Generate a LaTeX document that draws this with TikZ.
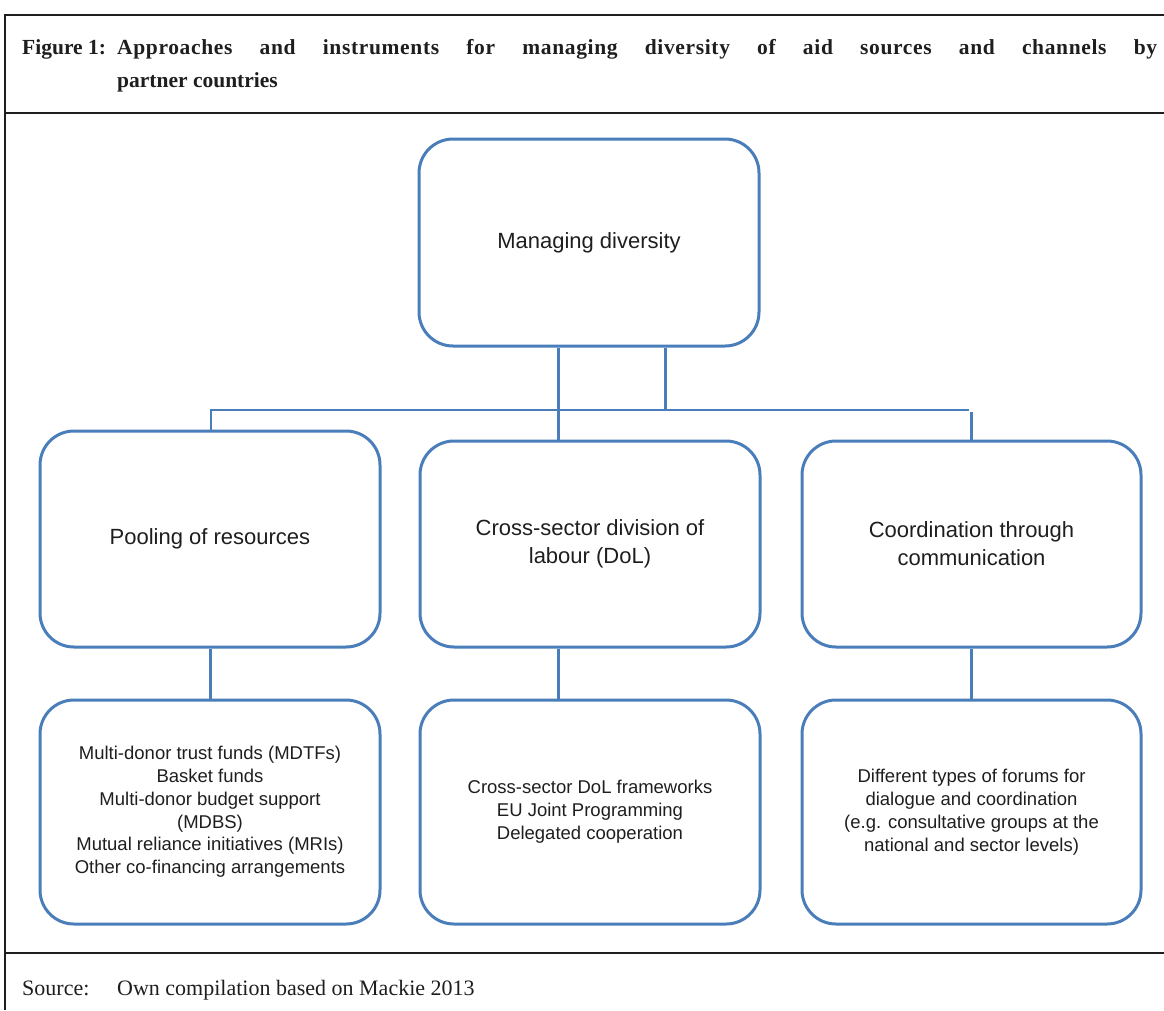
\documentclass[tikz,border=0pt]{standalone}
\usepackage{fontspec}
\setmainfont{Liberation Serif}
\newfontfamily\arialf{Liberation Sans}
\definecolor{boxblue}{RGB}{74,126,187}
\definecolor{framec}{RGB}{30,30,30}
\definecolor{txt}{RGB}{30,30,30}
\tikzset{
  boxnode/.style={draw=boxblue, line width=3pt, rounded corners=34pt, align=center,
    minimum width=340pt, inner sep=0pt, text=txt, font=\arialf\fontsize{22}{28}\selectfont},
  lownode/.style={boxnode, font=\arialf\fontsize{18.5}{22.8}\selectfont, minimum height=224pt},
  thickcon/.style={draw=boxblue, line width=3pt},
  thincon/.style={draw=boxblue, line width=1.6pt},
  framel/.style={draw=framec, line width=2pt},
  titletext/.style={anchor=base west, inner sep=0pt, text=txt, font=\bfseries\fontsize{21.5}{26}\selectfont},
  srctext/.style={anchor=base west, inner sep=0pt, text=txt, font=\fontsize{22}{26}\selectfont}
}
\begin{document}
\begin{tikzpicture}[x=1pt,y=-1pt]
\useasboundingbox (0,0) rectangle (1164,1010);
% frame
\coordinate (ftl) at (5,15);
\coordinate (fbl) at (5,1010);
\coordinate (ftr) at (1164,15);
\coordinate (s1l) at (5,113);
\coordinate (s1r) at (1164,113);
\coordinate (s2l) at (5,953);
\coordinate (s2r) at (1164,953);
\draw[framel] (fbl) -- (ftl) -- (ftr);
\draw[framel] (s1l) -- (s1r);
\draw[framel] (s2l) -- (s2r);
% title
\node[titletext] (fig) at (22,54) {Figure 1:};
\node[titletext] (t1) at (117,54) {\addfontfeature{LetterSpace=3}\makebox[1040pt][s]{Approaches and instruments for managing diversity of aid sources and channels by}};
\node[titletext] (t2) at (117,87) {partner countries};
% source
\node[srctext] (src) at (22,995) {Source:};
\node[srctext] (srct) at (117,995) {Own compilation based on Mackie 2013};
% boxes
\node[boxnode, minimum height=207pt] (top) at (589,242.5) {Managing diversity};
\node[boxnode, minimum height=216pt] (pool) at (210,539) {Pooling of resources};
\node[boxnode, minimum height=206pt] (cross) at (590,544) {Cross-sector division of\\labour (DoL)};
\node[boxnode, minimum height=206pt, minimum width=339pt] (coord) at (971.5,544) {Coordination through\\communication};
\node[lownode] (pool3) at (210,812) {Multi-donor trust funds (MDTFs)\\Basket funds\\Multi-donor budget support\\(MDBS)\\Mutual reliance initiatives (MRIs)\\Other co-financing arrangements};
\node[lownode] (cross3) at (590,812) {Cross-sector DoL frameworks\\EU Joint Programming\\Delegated cooperation};
\node[lownode, minimum width=339pt] (coord3) at (971.5,812) {Different types of forums for\\dialogue and coordination\\(e.g. consultative groups at the\\national and sector levels)};
% connectors
\coordinate (jl) at (211,410);
\coordinate (jc) at (558,410);
\coordinate (jm) at (665,410);
\coordinate (jr) at (969,410);
\draw[thincon] (pool.north -| jl) -- (jl) -- (jr);
\draw[thickcon] (top.south -| jc) -- (cross.north -| jc);
\draw[thickcon] (top.south -| jm) -- (jm);
\draw[thickcon] (coord.north) -- ([yshift=-2pt]coord.north |- jr);
\draw[thickcon] (pool.south) -- (pool3.north);
\draw[thickcon] (cross.south -| jc) -- (cross3.north -| jc);
\draw[thickcon] (coord.south) -- (coord3.north);
\end{tikzpicture}
\end{document}
